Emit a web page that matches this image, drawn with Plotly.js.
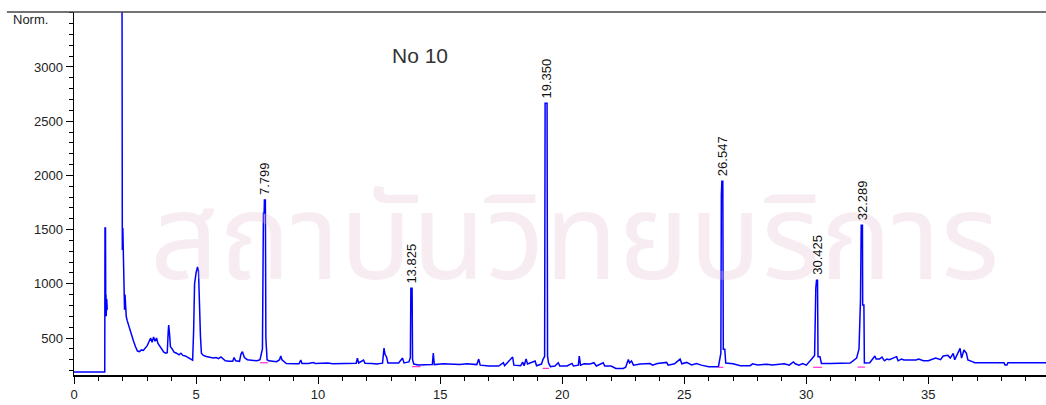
<!DOCTYPE html>
<html>
<head>
<meta charset="utf-8">
<script src="https://cdn.plot.ly/plotly-3.0.1.min.js"></script>
<style>html,body{margin:0;padding:0;background:#fff;}#chart{width:1046px;height:405px;}</style>
</head>
<body>
<div id="chart"></div>
<script>
// retention time (min) and detector signal (Norm.)
const rt = [0,1.26,1.27,1.29,1.30,1.31,1.32,1.34,1.36,null,
1.96,1.98,2.00,2.02,2.05,2.07,2.09,2.11,2.14,2.18,2.24,2.30,2.36,2.44,2.52,2.60,2.68,2.76,2.84,2.92,3.00,3.08,3.14,3.20,3.26,3.32,3.38,3.44,3.52,3.60,3.68,3.76,3.82,3.86,3.88,3.92,3.95,4.02,4.10,4.20,4.30,4.38,4.46,4.56,4.66,4.76,4.86,4.90,4.94,5.00,5.06,5.10,5.14,5.18,5.22,5.30,5.42,5.56,5.70,5.82,5.92,6.02,6.10,6.20,6.36,6.50,6.56,6.62,6.78,6.84,6.90,6.98,7.10,7.30,7.50,7.62,7.68,7.72,7.76,7.79,7.80,7.84,7.86,7.88,7.91,7.98,8.10,8.30,8.42,8.47,8.52,8.60,8.70,9.10,9.22,9.29,9.34,9.60,9.80,9.88,10.20,10.40,10.60,11.00,11.30,11.56,11.61,11.66,11.86,11.92,12.20,12.40,12.64,12.70,12.74,12.80,12.86,13.10,13.30,13.46,13.52,13.72,13.78,13.80,13.85,13.87,13.92,14.10,14.40,14.68,14.72,14.76,15.13,15.50,15.80,16.10,16.50,16.58,16.64,17.00,17.40,17.59,17.64,17.97,18.02,18.30,18.38,18.44,18.52,18.58,18.89,18.95,19.15,19.22,19.28,19.30,19.38,19.40,19.44,19.52,19.70,19.84,19.90,20.20,20.40,20.46,20.66,20.70,20.75,20.90,21.14,21.30,21.40,21.68,21.74,22.00,22.20,22.50,22.60,22.71,22.76,22.84,22.92,23.20,23.60,23.70,23.90,24.28,24.34,24.60,24.83,24.90,25.10,25.30,25.50,25.70,26.00,26.40,26.45,26.50,26.52,26.54,26.58,26.60,26.66,26.70,27.00,27.30,27.70,27.80,28.00,28.40,28.60,29.10,29.30,29.47,29.55,29.70,29.85,30.00,30.22,30.34,30.39,30.42,30.46,30.48,30.56,30.62,31.00,31.30,31.60,31.80,32.06,32.16,32.22,32.25,32.30,32.31,32.36,32.38,32.60,32.81,32.86,33.00,33.10,33.20,33.30,33.40,33.70,33.76,33.90,34.00,34.50,34.60,34.80,35.00,35.30,35.50,35.61,35.80,35.90,36.02,36.08,36.23,36.30,36.36,36.46,36.56,36.62,36.80,36.90,38.10,38.14,38.22,38.26,39.90];
const signal = [186,186,1515,1515,820,900,700,860,760,null,
5200,1312,1515,1300,880,760,900,750,700,660,610,560,520,470,420,380,375,390,385,410,430,470,500,460,510,470,500,450,420,390,370,360,365,560,620,520,420,400,370,360,345,360,340,335,320,305,295,560,1000,1100,1155,1120,700,520,360,340,330,325,315,320,310,325,305,290,285,285,320,290,285,352,374,320,300,297,290,300,360,400,1650,1650,1772,1772,500,420,300,290,285,282,300,334,300,282,265,262,262,297,265,266,275,266,266,270,262,266,270,268,315,270,297,268,266,260,268,408,350,328,270,268,270,315,270,280,320,960,960,300,260,252,252,255,362,255,262,260,255,262,255,306,250,242,242,272,245,325,250,245,278,245,306,260,288,245,260,306,330,2666,2666,330,270,236,242,272,242,242,266,242,250,334,250,262,260,272,242,272,242,242,220,220,230,303,270,288,250,260,265,250,265,275,250,262,306,262,275,252,265,250,236,236,300,360,1818,1947,1947,396,396,270,262,245,245,262,252,258,252,262,250,280,262,250,265,250,306,340,960,1034,1034,328,328,266,266,270,268,270,315,400,850,1541,1541,804,804,270,272,334,306,306,325,290,306,300,328,290,306,297,297,306,290,290,315,300,334,340,315,359,300,374,405,315,390,359,297,282,272,272,251,251,272,272];

// integration baseline markers
const baseRt = [7.62,7.95,null,13.85,14.2,null,19.2,19.46,null,26.4,26.6,null,30.28,30.64,null,32.1,32.4];
const baseVal = [272,272,null,236,236,null,220,220,null,230,230,null,230,230,null,232,232];

// labelled peaks
const peakRt = [7.799,13.825,19.350,26.547,30.425,32.289];
const peakTop = [1772,960,2666,1947,1034,1541];
const peakLabel = ['7.799','13.825','19.350','26.547','30.425','32.289'];

const yTicks = [500,1000,1500,2000,2500,3000];
const xTicks = [0,5,10,15,20,25,30,35,40];

const traces = [
  {x: rt, y: signal, type:'scatter', mode:'lines', line:{color:'#0000ff', width:1.5}, connectgaps:false, hoverinfo:'skip'},
  {x: baseRt, y: baseVal, type:'scatter', mode:'lines', line:{color:'#ff33cc', width:1.2}, connectgaps:false, hoverinfo:'skip'}
];

const wm = 'rgba(225,185,205,0.28)';
const ann = [
  {xref:'paper', yref:'paper', x:0.515, y:0.366, text:'สถาบันวิทยบริการ', showarrow:false, xanchor:'center', yanchor:'middle',
    font:{family:'Noto Sans Thai, Noto Sans, sans-serif', size:120, color:wm}}
];
peakRt.forEach((p,i)=>ann.push({
  x:p, y:peakTop[i], xref:'x', yref:'y', text:peakLabel[i], textangle:-90,
  showarrow:false, xanchor:'center', yanchor:'bottom', yshift:3,
  font:{family:'Liberation Sans, Arial, sans-serif', size:13, color:'#111'}
}));
ann.push({xref:'paper', yref:'paper', x:0.356, y:0.881, text:'No 10', showarrow:false, xanchor:'center', yanchor:'middle',
  font:{family:'Liberation Sans, Arial, sans-serif', size:21, color:'#333'}});
ann.push({xref:'paper', yref:'paper', x:-0.045, y:0.978, text:'Norm.', showarrow:false, xanchor:'center', yanchor:'middle',
  font:{family:'Liberation Sans, Arial, sans-serif', size:13, color:'#222'}});

const layout = {
  width:1046, height:405,
  margin:{l:74, r:0, t:12, b:30, pad:0},
  paper_bgcolor:'#fff', plot_bgcolor:'rgba(0,0,0,0)',
  showlegend:false,
  font:{family:'Liberation Sans, Arial, sans-serif', size:13, color:'#222'},
  xaxis:{range:[0,39.82], tickvals:xTicks, ticktext:xTicks.map(String), ticks:'outside', ticklen:7, tickcolor:'#000',
    showline:true, linecolor:'#000', linewidth:1.5, showgrid:false, zeroline:false,
    minor:{dtick:1, tick0:0, ticks:'outside', ticklen:4, tickcolor:'#000'}},
  yaxis:{range:[159,3507], tickvals:yTicks, ticktext:yTicks.map(String), ticks:'outside', ticklen:7, tickcolor:'#000',
    showline:true, linecolor:'#000', linewidth:1.5, showgrid:false, zeroline:false,
    minor:{dtick:100, tick0:0, ticks:'outside', ticklen:4, tickcolor:'#000'}},
  shapes:[{type:'line', xref:'paper', yref:'paper', x0:-0.069, x1:1, y0:1, y1:1, line:{color:'#444', width:1.5}}],
  annotations: ann
};

Plotly.newPlot('chart', traces, layout, {staticPlot:true, displayModeBar:false});
</script>
</body>
</html>
